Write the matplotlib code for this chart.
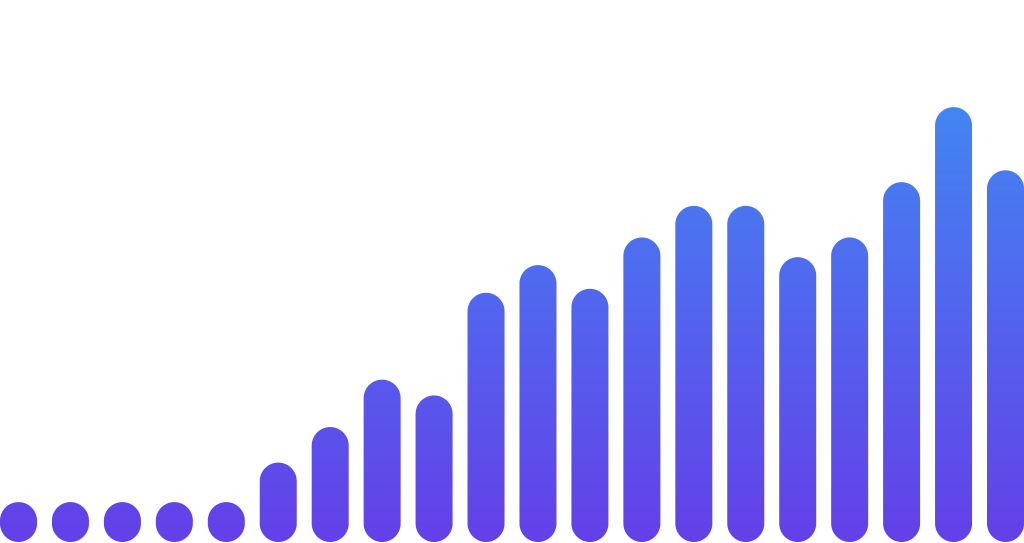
import numpy as np
import matplotlib
matplotlib.use("Agg")
import matplotlib.pyplot as plt
from matplotlib.patches import PathPatch
from matplotlib.path import Path
from matplotlib.colors import LinearSegmentedColormap

# Data (relative values, 0-100)
categories = list(range(1, 21))
values = [0, 0, 0, 0, 0, 10, 19, 31, 27, 53, 60, 54, 67, 75, 75, 62, 67, 81, 100, 84]
min_height = 10.1  # minimum visible bar height (value units)

top_color = "#4385F3"
bottom_color = "#6440E8"

W, H, DPI = 1024, 543, 100
fig = plt.figure(figsize=(W / DPI, H / DPI), dpi=DPI)
ax = fig.add_axes([0, 0, 1, 1])
ax.set_axis_off()

n = len(values)
pitch_px = (W - 37) / (n - 1)
bar_w = 37 / pitch_px
xlim = (-bar_w / 2, (n - 1) + bar_w / 2)
px_per_unit_y = 3.95
ylim = (-1 / px_per_unit_y, (H - 1) / px_per_unit_y)
ax.set_xlim(*xlim)
ax.set_ylim(*ylim)

x_unit_px = W / (xlim[1] - xlim[0])
y_unit_px = H / (ylim[1] - ylim[0])
rx = bar_w / 2
ry = rx * x_unit_px / y_unit_px

t_top = np.linspace(0, np.pi, 64)
t_bot = np.linspace(np.pi, 2 * np.pi, 64)

paths = []
for i, v in enumerate(values):
    h = v + min_height
    yt = h - ry
    yb = ry
    xs = np.concatenate([i + rx * np.cos(t_top), i + rx * np.cos(t_bot)])
    ys = np.concatenate([yt + ry * np.sin(t_top), yb + ry * np.sin(t_bot)])
    verts = np.column_stack([xs, ys])
    verts = np.vstack([verts, verts[:1]])
    codes = [Path.MOVETO] + [Path.LINETO] * (len(verts) - 2) + [Path.CLOSEPOLY]
    paths.append(Path(verts, codes))

compound = Path.make_compound_path(*paths)
clip = PathPatch(compound, facecolor="none", edgecolor="none", transform=ax.transData)
ax.add_patch(clip)

ymax = max(values) + min_height
cmap = LinearSegmentedColormap.from_list("g", [bottom_color, top_color])
grad = np.linspace(0, 1, 512).reshape(-1, 1)
im = ax.imshow(grad, cmap=cmap, origin="lower", aspect="auto",
               extent=[xlim[0], xlim[1], 0, ymax], interpolation="bilinear")
im.set_clip_path(clip)
ax.set_xlim(*xlim)
ax.set_ylim(*ylim)

fig.savefig("out.png", dpi=DPI, facecolor="white")
